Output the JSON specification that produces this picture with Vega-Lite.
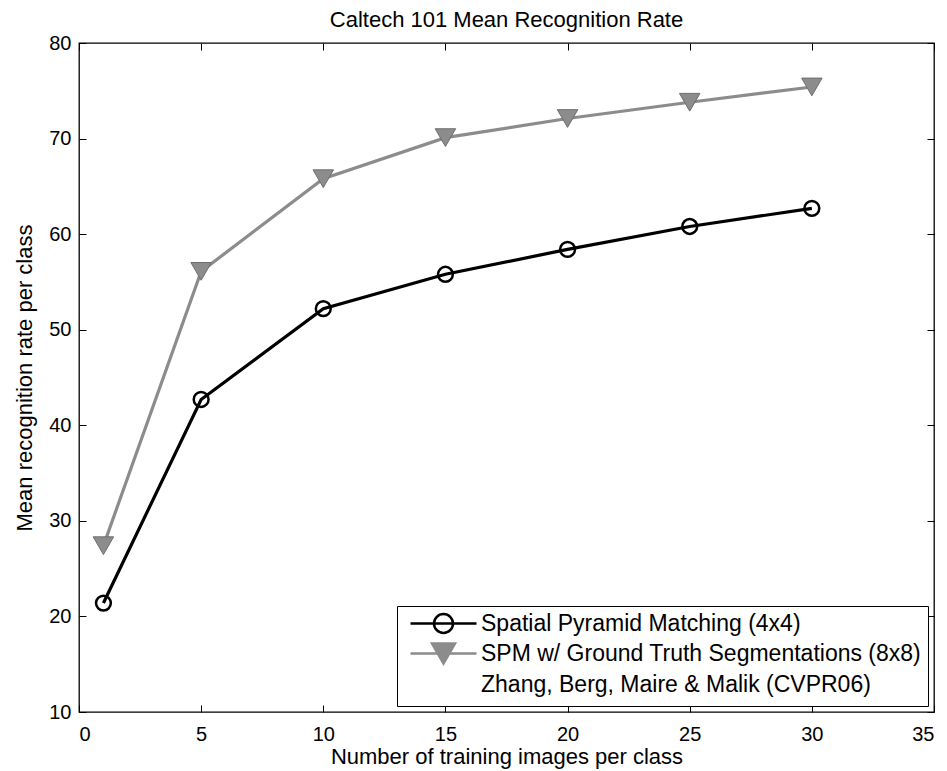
{
  "$schema": "https://vega.github.io/schema/vega-lite/v6.json",
  "autosize": {"type": "none"},
  "padding": {"left": 79, "top": 43, "right": 13, "bottom": 59},
  "width": 855,
  "height": 669,
  "background": "white",
  "title": {"text": "Caltech 101 Mean Recognition Rate", "font": "Liberation Sans", "fontSize": 22, "fontWeight": "normal", "color": "black", "offset": 1, "anchor": "middle"},
  "config": {
    "view": {"stroke": "black", "strokeWidth": 1.3},
    "axis": {"labelFont": "Liberation Sans", "titleFont": "Liberation Sans", "labelColor": "black", "titleColor": "black", "tickColor": "black", "domain": false, "grid": false, "titleFontWeight": "normal"}
  },
  "data": {"values": [
    {"series": "Spatial Pyramid Matching (4x4)", "n": 1, "rate": 21.4},
    {"series": "Spatial Pyramid Matching (4x4)", "n": 5, "rate": 42.7},
    {"series": "Spatial Pyramid Matching (4x4)", "n": 10, "rate": 52.2},
    {"series": "Spatial Pyramid Matching (4x4)", "n": 15, "rate": 55.8},
    {"series": "Spatial Pyramid Matching (4x4)", "n": 20, "rate": 58.4},
    {"series": "Spatial Pyramid Matching (4x4)", "n": 25, "rate": 60.8},
    {"series": "Spatial Pyramid Matching (4x4)", "n": 30, "rate": 62.7},
    {"series": "SPM w/ Ground Truth Segmentations (8x8)", "n": 1, "rate": 27.4},
    {"series": "SPM w/ Ground Truth Segmentations (8x8)", "n": 5, "rate": 56.1},
    {"series": "SPM w/ Ground Truth Segmentations (8x8)", "n": 10, "rate": 65.8},
    {"series": "SPM w/ Ground Truth Segmentations (8x8)", "n": 15, "rate": 70.1},
    {"series": "SPM w/ Ground Truth Segmentations (8x8)", "n": 20, "rate": 72.1},
    {"series": "SPM w/ Ground Truth Segmentations (8x8)", "n": 25, "rate": 73.8},
    {"series": "SPM w/ Ground Truth Segmentations (8x8)", "n": 30, "rate": 75.4}
  ]},
  "layer": [
    {
      "mark": {"type": "line", "strokeWidth": 3.2},
      "encoding": {
        "x": {"field": "n", "type": "quantitative", "scale": {"domain": [0, 35], "nice": false, "zero": false},
              "axis": {"orient": "bottom", "values": [0,5,10,15,20,25,30,35], "tickSize": -7, "labelPadding": 19, "labelFontSize": 20, "title": "Number of training images per class", "titleFontSize": 22, "titlePadding": 2}},
        "y": {"field": "rate", "type": "quantitative", "scale": {"domain": [10, 80], "nice": false, "zero": false},
              "axis": {"orient": "left", "values": [10,20,30,40,50,60,70,80], "tickSize": -7, "labelPadding": 15, "labelFontSize": 20, "title": "Mean recognition rate per class", "titleFontSize": 22, "titlePadding": 12}},
        "color": {"field": "series", "type": "nominal", "legend": null,
                  "scale": {"domain": ["Spatial Pyramid Matching (4x4)", "SPM w/ Ground Truth Segmentations (8x8)"], "range": ["black", "#8c8c8c"]}},
        "detail": {"field": "series"}
      }
    },
    {
      "transform": [{"filter": "datum.series === 'Spatial Pyramid Matching (4x4)'"}],
      "mark": {"type": "point", "shape": "circle", "filled": false, "stroke": "black", "strokeWidth": 2.5, "size": 220, "opacity": 1},
      "encoding": {
        "x": {"field": "n", "type": "quantitative", "axis": {"orient": "top", "values": [0,5,10,15,20,25,30,35], "tickSize": -7, "labels": false, "title": null}},
        "y": {"field": "rate", "type": "quantitative", "axis": {"orient": "right", "values": [10,20,30,40,50,60,70,80], "tickSize": -7, "labels": false, "title": null}}
      }
    },
    {
      "transform": [{"filter": "datum.series === 'SPM w/ Ground Truth Segmentations (8x8)'"}],
      "mark": {"type": "point", "shape": "triangle-down", "filled": true, "fill": "#8c8c8c", "stroke": "#6e6e6e", "strokeWidth": 1, "size": 420, "opacity": 1},
      "encoding": {
        "x": {"field": "n", "type": "quantitative", "axis": null},
        "y": {"field": "rate", "type": "quantitative", "axis": null}
      }
    },
    {
      "mark": {"type": "point", "filled": true, "opacity": 0, "strokeWidth": 2.5, "size": 400},
      "encoding": {
        "x": {"field": "n", "type": "quantitative", "axis": null},
        "y": {"field": "rate", "type": "quantitative", "axis": null},
        "shape": {"field": "series", "type": "nominal",
                  "scale": {"domain": ["Spatial Pyramid Matching (4x4)", "SPM w/ Ground Truth Segmentations (8x8)", "Zhang, Berg, Maire & Malik (CVPR06)"],
                            "range": ["M-3.3,0H3.3M0.95,0A0.95,0.95,0,1,1,-0.95,0A0.95,0.95,0,1,1,0.95,0Z", "M-3.3,0H3.3M-1.15,-1L1.15,-1L0,1Z", "M-3.3,0H3.3M1,0A1,1,0,1,1,-1,0A1,1,0,1,1,1,0Z"]},
                  "legend": {"title": null, "orient": "bottom-right", "offset": 6, "padding": 6, "strokeColor": "black", "fillColor": "white", "labelFont": "Liberation Sans", "labelFontSize": 23, "labelColor": "black", "labelLimit": 700, "symbolSize": 400, "symbolStrokeWidth": 2.5, "symbolOffset": 29, "labelOffset": 26, "rowPadding": 0, "encode": {"symbols": {"update": {"opacity": {"value": 1}, "strokeWidth": {"value": 2.5}}}}}},
        "stroke": {"field": "series", "type": "nominal",
                   "scale": {"domain": ["Spatial Pyramid Matching (4x4)", "SPM w/ Ground Truth Segmentations (8x8)", "Zhang, Berg, Maire & Malik (CVPR06)"], "range": ["black", "#8c8c8c", "white"]},
                   "legend": {"title": null, "orient": "bottom-right", "offset": 6, "padding": 6, "strokeColor": "black", "fillColor": "white", "labelFont": "Liberation Sans", "labelFontSize": 23, "labelColor": "black", "labelLimit": 700, "symbolSize": 400, "symbolStrokeWidth": 2.5, "symbolOffset": 29, "labelOffset": 26, "rowPadding": 0, "encode": {"symbols": {"update": {"opacity": {"value": 1}, "strokeWidth": {"value": 2.5}}}}}},
        "fill": {"field": "series", "type": "nominal",
                 "scale": {"domain": ["Spatial Pyramid Matching (4x4)", "SPM w/ Ground Truth Segmentations (8x8)", "Zhang, Berg, Maire & Malik (CVPR06)"], "range": ["white", "#8c8c8c", "white"]},
                 "legend": {"title": null, "orient": "bottom-right", "offset": 6, "padding": 6, "strokeColor": "black", "fillColor": "white", "labelFont": "Liberation Sans", "labelFontSize": 23, "labelColor": "black", "labelLimit": 700, "symbolSize": 400, "symbolStrokeWidth": 2.5, "symbolOffset": 29, "labelOffset": 26, "rowPadding": 0, "encode": {"symbols": {"update": {"opacity": {"value": 1}, "strokeWidth": {"value": 2.5}}}}}}
      }
    }
  ],
  "resolve": {"axis": {"x": "independent", "y": "independent"}}
}
